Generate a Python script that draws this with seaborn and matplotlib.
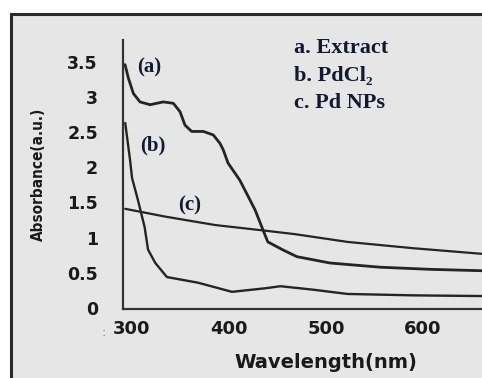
import matplotlib
matplotlib.use("Agg")
import matplotlib.pyplot as plt
from matplotlib.patches import Rectangle
from matplotlib import font_manager
import seaborn as sns
import pandas as pd

# ---- data ----
wl_extract = [292.8, 296.2, 301.4, 308.2, 318.6, 332.3, 342.6, 349.5, 354.6, 361.5, 373.5,
              383.8, 390.7, 394, 399, 411, 420, 427, 435, 440, 455, 470, 504, 556, 607, 661]
abs_extract = [3.46, 3.27, 3.05, 2.93, 2.89, 2.93, 2.91, 2.79, 2.60, 2.51, 2.51,
               2.46, 2.34, 2.25, 2.06, 1.82, 1.58, 1.39, 1.11, 0.94, 0.83, 0.73, 0.64,
               0.58, 0.55, 0.53]

wl_pdcl2 = [293, 298, 300, 306, 313, 316.5, 324, 336, 368, 403, 437, 453, 487, 522, 590, 661]
abs_pdcl2 = [2.63, 2.10, 1.85, 1.54, 1.15, 0.83, 0.64, 0.44, 0.36, 0.23, 0.28, 0.31, 0.26,
             0.20, 0.18, 0.17]

wl_pdnp = [293, 334, 385.5, 437, 468, 522, 590, 661]
abs_pdnp = [1.41, 1.30, 1.18, 1.10, 1.05, 0.94, 0.85, 0.77]

x_ticks = [300, 400, 500, 600]
y_ticks = [0, 0.5, 1, 1.5, 2, 2.5, 3, 3.5]
y_tick_labels = ["0", "0.5", "1", "1.5", "2", "2.5", "3", "3.5"]
legend_lines = ["a. Extract", "b. PdCl\u2082", "c. Pd NPs"]
curve_tags = ["(a)", "(b)", "(c)"]

sns.set_style("white")
W, H = 482, 378
fig = plt.figure(figsize=(W / 100, H / 100), dpi=100)
fig.patch.set_facecolor("white")

# outer frame
frame = Rectangle((11 / W, -0.1), 1.2, (1 - 14 / H) + 0.1, transform=fig.transFigure,
                  facecolor="#e6e6e6", edgecolor="#2b2b2b", lw=2.2, zorder=-5)
fig.patches.append(frame)

ax = fig.add_axes([123 / W, 1 - 309 / H, (W - 123) / W, (309 - 40) / H])
ax.set_facecolor("none")
ax.set_zorder(2)

line_col = "#242424"
df_a = pd.DataFrame({"wl": wl_extract, "A": abs_extract})
df_b = pd.DataFrame({"wl": wl_pdcl2, "A": abs_pdcl2})
df_c = pd.DataFrame({"wl": wl_pdnp, "A": abs_pdnp})
sns.lineplot(data=df_a, x="wl", y="A", ax=ax, color=line_col, lw=2.0, sort=False)
sns.lineplot(data=df_b, x="wl", y="A", ax=ax, color=line_col, lw=1.7, sort=False)
sns.lineplot(data=df_c, x="wl", y="A", ax=ax, color=line_col, lw=1.6, sort=False)
for ln in ax.get_lines():
    ln.set_solid_joinstyle("round")
    ln.set_solid_capstyle("round")

ax.set_xlim(290.7, 660.8)
ax.set_ylim(-0.014, 3.81)
ax.set_xticks(x_ticks)
ax.set_xticklabels([str(t) for t in x_ticks])
ax.set_yticks(y_ticks)
ax.set_yticklabels(y_tick_labels)
ax.tick_params(axis="both", length=0)
ax.tick_params(axis="x", pad=8, labelsize=13)
ax.tick_params(axis="y", pad=18, labelsize=12.5)
for lab in ax.get_xticklabels() + ax.get_yticklabels():
    lab.set_fontweight("bold")
    lab.set_fontfamily("DejaVu Sans")
    lab.set_color("#1a1a1a")
ax.set_xlabel("")
ax.set_ylabel("")

for side in ["top", "right"]:
    ax.spines[side].set_visible(False)
for side in ["left", "bottom"]:
    ax.spines[side].set_color("#333333")
    ax.spines[side].set_linewidth(1.6)

# axis titles
fig.text(326 / W, 1 - 363 / H, "Wavelength(nm)", ha="center", va="center",
         fontsize=14, fontweight="bold", family="DejaVu Sans", color="#1a1a1a")

has_condensed = any(f.name == "DejaVu Sans" and f.stretch == "condensed" and f.weight in ("bold", 700)
                    for f in font_manager.fontManager.ttflist)
if has_condensed:
    ylab_kw = dict(fontsize=11, fontstretch="condensed")
else:
    ylab_kw = dict(fontsize=10.2)
fig.text(38 / W, 1 - 174 / H, "Absorbance(a.u.)", ha="center", va="center", rotation=90,
         fontweight="bold", family="DejaVu Sans", color="#1a1a1a", **ylab_kw)
fig.text(104 / W, 1 - 333 / H, ":", ha="center", va="center", fontsize=9, color="#777777")

txt_col = "#121a33"
serif = ["Liberation Serif", "DejaVu Serif"]
tag_pos = [(149, 67), (153, 145), (190, 205)]
for tag, (px, py) in zip(curve_tags, tag_pos):
    fig.text(px / W, 1 - py / H, tag, ha="center", va="center", fontsize=15,
             fontweight="bold", family=serif, color=txt_col)

for i, (txt, py) in enumerate(zip(legend_lines, [48, 76, 103])):
    fig.text(294 / W, 1 - py / H, txt, ha="left", va="center", fontsize=16,
             fontweight="bold", family=serif, color=txt_col)

fig.savefig("out.png", dpi=100)
